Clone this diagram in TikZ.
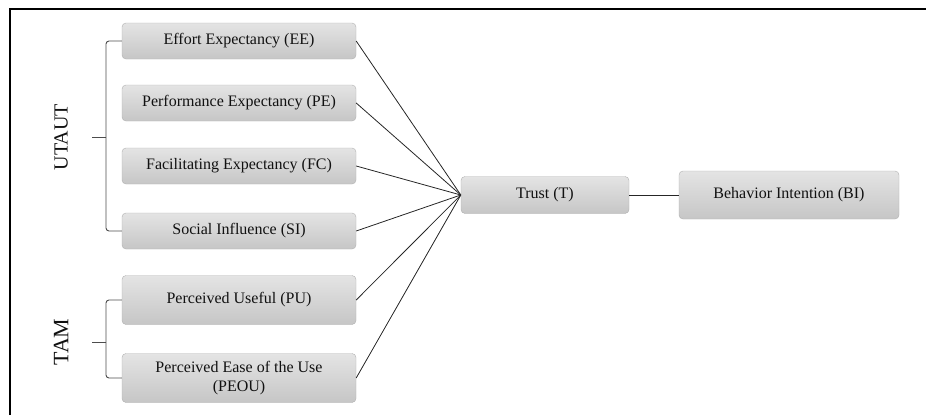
\documentclass[tikz,border=0pt]{standalone}
\usepackage{fontspec}
\setmainfont{Liberation Serif}
\usetikzlibrary{calc, positioning}
\definecolor{boxtop}{HTML}{E4E4E4}
\definecolor{boxbot}{HTML}{C6C6C6}
\definecolor{boxline}{HTML}{B0B0B0}
\definecolor{textdark}{HTML}{111111}
\tikzset{
  factor/.style={rectangle, rounded corners=4pt, draw=boxline, top color=boxtop,
    bottom color=boxbot, text=textdark, align=center, inner sep=2pt,
    font=\fontsize{16}{19}\selectfont},
  link/.style={draw=black!85, line width=0.8pt},
  brace/.style={draw=black!70, line width=0.9pt, rounded corners=3pt},
  model/.style={rotate=90, text=textdark}
}
\begin{document}
\begin{tikzpicture}[x=1pt, y=-1pt]
  \useasboundingbox (0,0) rectangle (926,415);
  % Outer frame (top and left edge only)
  \draw[line width=1.6pt] (10,415) -- (10,9) -- (926,9);

  % UTAUT constructs
  \node[factor, minimum width=234pt, minimum height=36pt] (ee) at (239,41) {Effort Expectancy (EE)};
  \node[factor, minimum width=234pt, minimum height=36pt] (pe) at (239,103) {Performance Expectancy (PE)};
  \node[factor, minimum width=234pt, minimum height=36pt] (fc) at (239,166) {Facilitating Expectancy (FC)};
  \node[factor, minimum width=234pt, minimum height=36pt] (si) at (239,231) {Social Influence (SI)};

  % TAM constructs
  \node[factor, minimum width=234pt, minimum height=49pt] (pu) at (239,300) {Perceived Useful (PU)};
  \node[factor, minimum width=234pt, minimum height=49pt] (peou) at (239,378) {Perceived Ease of the Use\\(PEOU)};

  % Mediator and outcome
  \node[factor, minimum width=168pt, minimum height=37pt] (trust) at (545,195) {Trust (T)};
  \node[factor, minimum width=220pt, minimum height=48pt] (bi) at (789,195) {Behavior Intention (BI)};

  % Model labels
  \node[model, font=\fontsize{20}{24}\selectfont] (utaut) at (61,137) {UTAUT};
  \node[model, font=\fontsize{22}{26}\selectfont] (tam) at (61,342) {TAM};

  % Braces grouping the constructs
  \coordinate (ubrace) at (106,137);
  \coordinate (tbrace) at (106,342);
  \draw[brace] (ee.west) -| (ubrace);
  \draw[brace] (si.west) -| (ubrace);
  \draw[brace] (ubrace) -- ++(-14,0);
  \draw[brace] (pu.west) -| (tbrace);
  \draw[brace] (peou.west) -| (tbrace);
  \draw[brace] (tbrace) -- ++(-14,0);

  % Paths into Trust
  \foreach \src in {ee, pe, fc, si, pu, peou}
    \draw[link] (\src.east) -- (trust.west);
  \draw[link] (trust.east) -- (bi.west);
\end{tikzpicture}
\end{document}
